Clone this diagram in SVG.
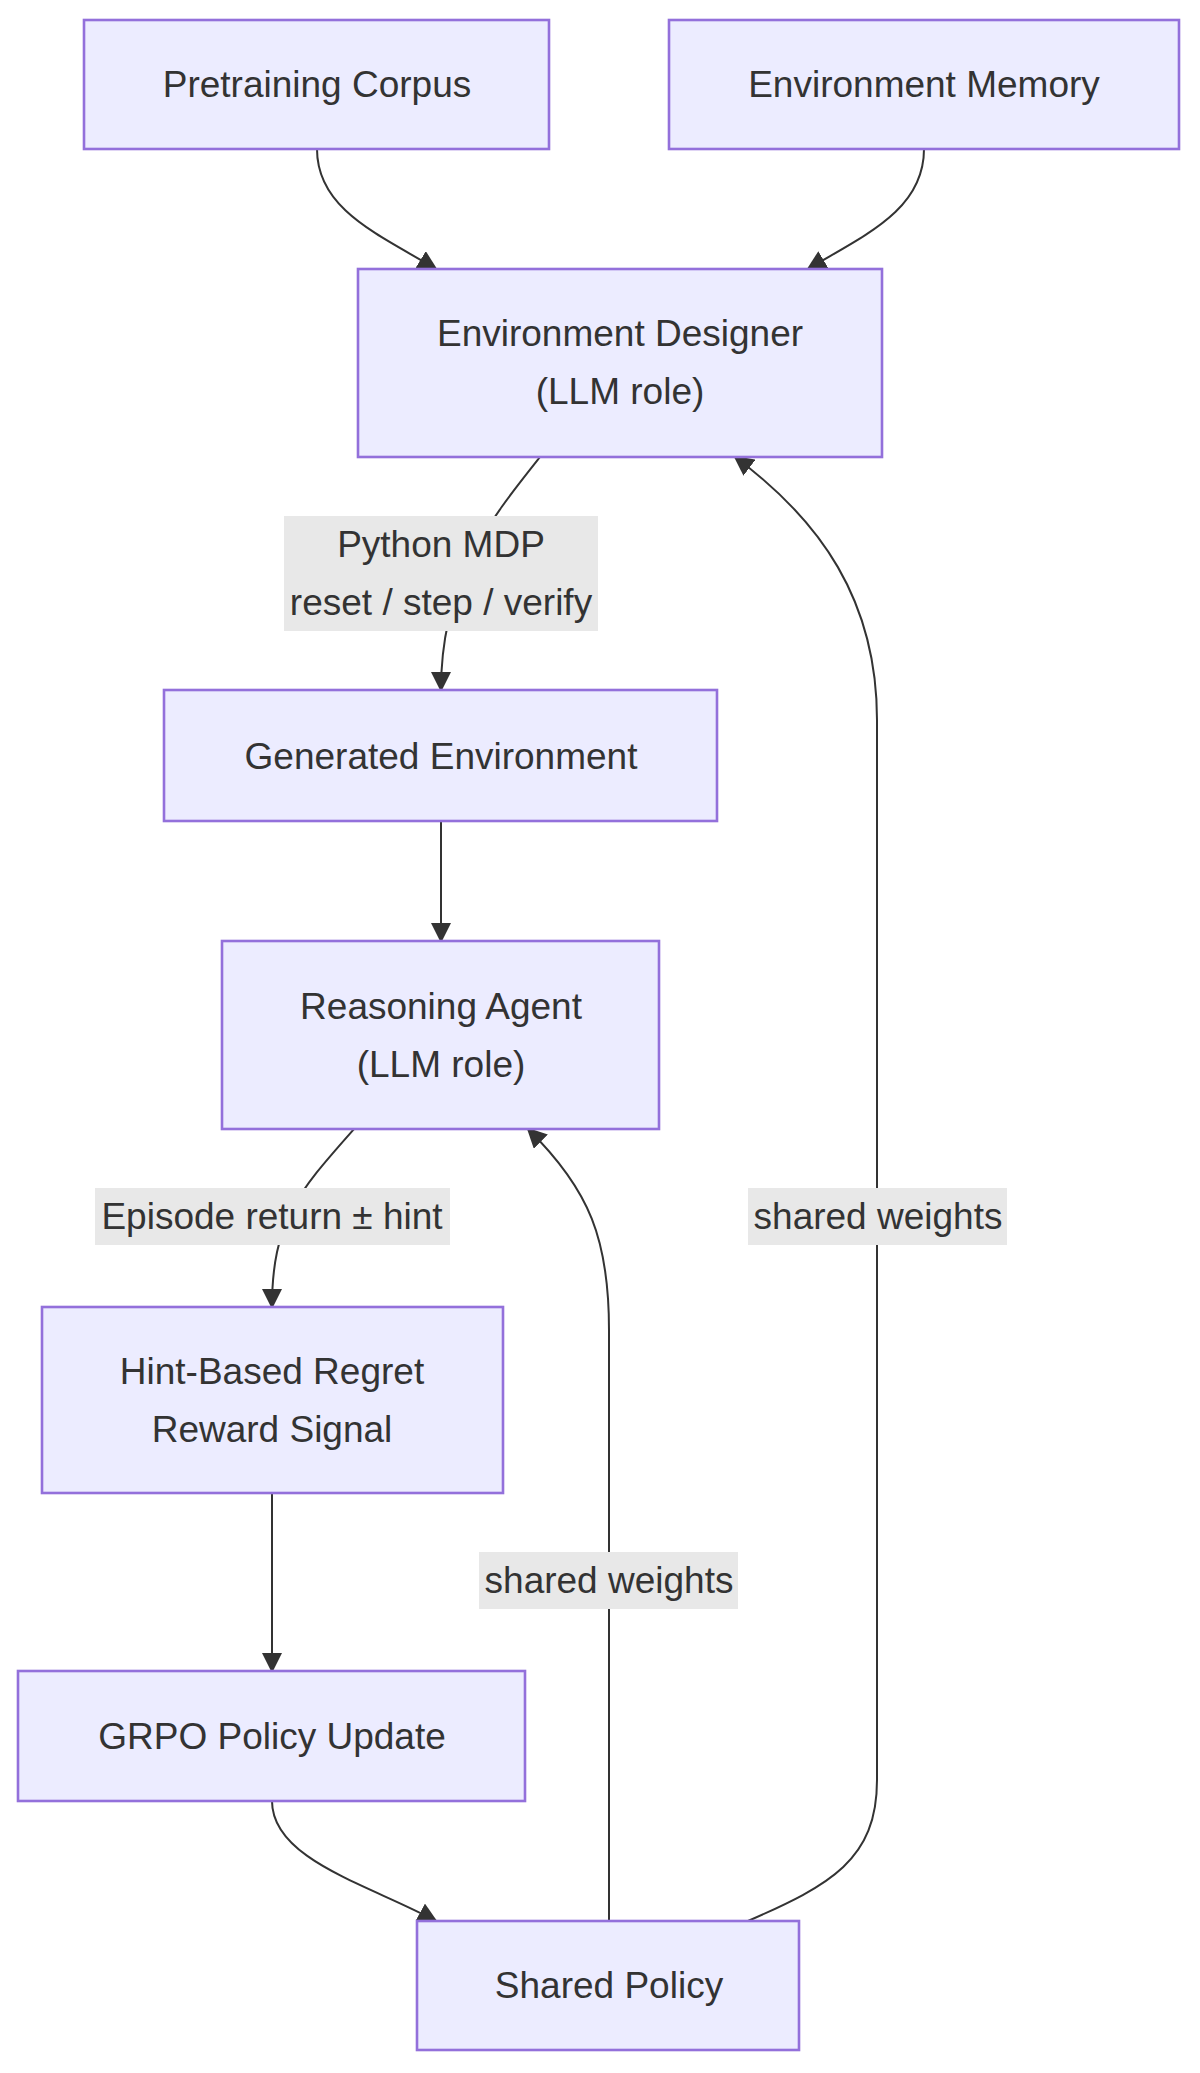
<svg xmlns="http://www.w3.org/2000/svg" width="1200" height="2073" viewBox="0 0 1200 2073">
<style>
.n{fill:#ECECFF;stroke:#9370DB;stroke-width:2.6}
.t{font-family:"Liberation Sans",Arial,sans-serif;font-size:37px;fill:#333;text-anchor:middle;dominant-baseline:central}
.e{fill:none;stroke:#333;stroke-width:2}
.lb{fill:#e8e8e8}
</style>
<defs><marker id="a" viewBox="0 0 10 10" refX="9" refY="5" markerWidth="9" markerHeight="9" orient="auto-start-reverse" markerUnits="userSpaceOnUse"><path d="M0,0L10,5L0,10z" fill="#333"/></marker>
<marker id="b" viewBox="0 0 10 10" refX="9" refY="5" markerWidth="20" markerHeight="20" orient="auto" markerUnits="userSpaceOnUse"><path d="M0,0L10,5L0,10z" fill="#333"/></marker></defs>
<rect width="1200" height="2073" fill="#fff"/>
<g id="edges">
<path class="e" marker-end="url(#b)" d="M317,149 C317,210 380,235 436,269"/>
<path class="e" marker-end="url(#b)" d="M924,149 C924,210 865,235 808,269"/>
<path class="e" marker-end="url(#b)" d="M540,457 C490,520 441,580 441,690"/>
<path class="e" marker-end="url(#b)" d="M441,821 L441,941"/>
<path class="e" marker-end="url(#b)" d="M354,1129 C300,1190 272,1220 272,1307"/>
<path class="e" marker-end="url(#b)" d="M272,1493 L272,1671"/>
<path class="e" marker-end="url(#b)" d="M272,1801 C272,1860 370,1885 436,1921"/>
<path class="e" marker-end="url(#b)" d="M609,1921 L609,1330 C609,1240 590,1190 528,1129"/>
<path class="e" marker-end="url(#b)" d="M748,1921 C830,1885 877,1860 877,1780 L877,720 C877,600 820,520 735,457"/>
</g>
<g id="labels">
<rect class="lb" x="284" y="516" width="314" height="115"/>
<text class="t" x="441" y="544">Python MDP</text>
<text class="t" x="441" y="602">reset / step / verify</text>
<rect class="lb" x="95" y="1188" width="355" height="57"/>
<text class="t" x="272" y="1216">Episode return ± hint</text>
<rect class="lb" x="748" y="1188" width="259" height="57"/>
<text class="t" x="878" y="1216">shared weights</text>
<rect class="lb" x="479" y="1552" width="259" height="57"/>
<text class="t" x="609" y="1580">shared weights</text>
</g>
<g id="pc"><rect class="n" x="84" y="20" width="465" height="129"/><text class="t" x="317" y="84">Pretraining Corpus</text></g>
<g id="em"><rect class="n" x="669" y="20" width="510" height="129"/><text class="t" x="924" y="84">Environment Memory</text></g>
<g id="ed"><rect class="n" x="358" y="269" width="524" height="188"/><text class="t" x="620" y="333">Environment Designer</text><text class="t" x="620" y="391">(LLM role)</text></g>
<g id="ge"><rect class="n" x="164" y="690" width="553" height="131"/><text class="t" x="441" y="756">Generated Environment</text></g>
<g id="ra"><rect class="n" x="222" y="941" width="437" height="188"/><text class="t" x="441" y="1006">Reasoning Agent</text><text class="t" x="441" y="1064">(LLM role)</text></g>
<g id="hb"><rect class="n" x="42" y="1307" width="461" height="186"/><text class="t" x="272" y="1371">Hint-Based Regret</text><text class="t" x="272" y="1429">Reward Signal</text></g>
<g id="grpo"><rect class="n" x="18" y="1671" width="507" height="130"/><text class="t" x="272" y="1736">GRPO Policy Update</text></g>
<g id="sp"><rect class="n" x="417" y="1921" width="382" height="129"/><text class="t" x="609" y="1985">Shared Policy</text></g>
</svg>
